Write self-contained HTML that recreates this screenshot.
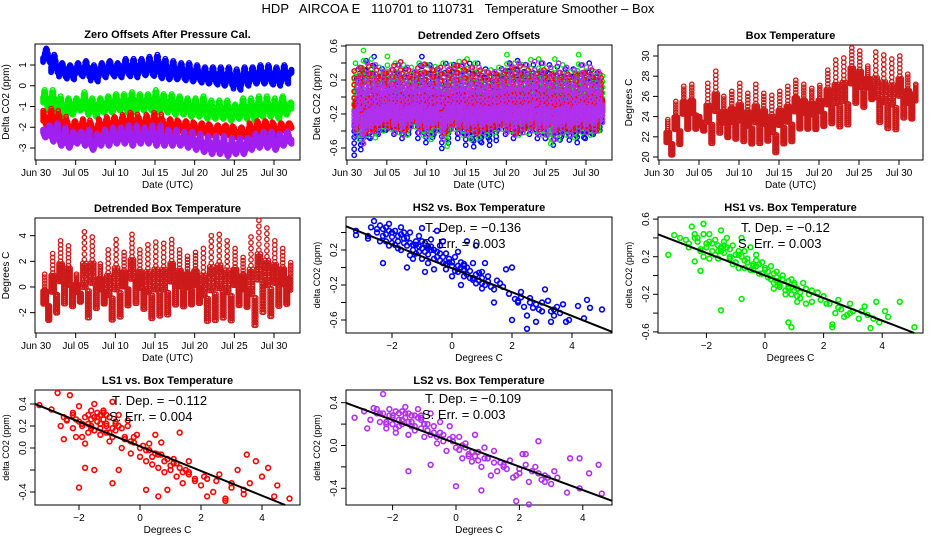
<!DOCTYPE html>
<html><head><meta charset="utf-8">
<style>
html,body{margin:0;padding:0;background:#fff;}
svg{display:block;font-family:"Liberation Sans",sans-serif;}
</style></head>
<body>
<svg id="chart" width="936" height="540" viewBox="0 0 936 540" xmlns="http://www.w3.org/2000/svg">
<text x="458" y="13" font-size="13" text-anchor="middle" xml:space="preserve">HDP   AIRCOA E   110701 to 110731   Temperature Smoother – Box</text>
</svg>
<script>
// ---------- data ----------
const dayLabels = ["Jun 30","Jul 05","Jul 10","Jul 15","Jul 20","Jul 25","Jul 30"];
const dayTicks = [0,5,10,15,20,25,30];
const hs2Lo = [1.1,0.6,0.4,0.3,0.5,0.4,0.2,0.4,0.5,0.4,0.5,0.4,0.5,0.5,0.4,0.3,0.3,0.3,0.2,0.2,0.1,0.1,0.0,0.0,-0.2,0.0,0.1,0.1,0.1,0.0,0.1,0.5];
const hs2Hi = [1.8,1.5,1.1,1.0,1.1,1.2,1.0,1.1,1.2,1.1,1.3,1.3,1.3,1.4,1.5,1.3,1.2,1.1,1.1,1.0,0.9,0.9,0.9,0.9,0.8,0.9,0.9,1.0,1.0,0.9,1.0,0.8];
const hs1Lo = [-1.2,-1.3,-1.6,-1.4,-1.2,-1.4,-1.5,-1.3,-1.3,-1.2,-1.3,-1.3,-1.2,-1.2,-1.3,-1.3,-1.4,-1.4,-1.5,-1.5,-1.6,-1.6,-1.6,-1.7,-1.6,-1.6,-1.7,-1.5,-1.5,-1.6,-1.4,-1.3];
const hs1Hi = [-0.2,-0.2,-0.5,-0.6,-0.6,-0.3,-0.6,-0.6,-0.5,-0.4,-0.4,-0.3,-0.4,-0.4,-0.2,-0.4,-0.4,-0.5,-0.6,-0.6,-0.5,-0.7,-0.7,-0.7,-0.9,-0.6,-0.6,-0.5,-0.5,-0.6,-0.5,-0.8];
const ls1Lo = [-2.0,-2.2,-2.3,-2.3,-2.2,-2.3,-2.4,-2.2,-2.2,-2.1,-2.1,-2.2,-2.1,-2.1,-2.2,-2.2,-2.2,-2.2,-2.3,-2.3,-2.3,-2.4,-2.3,-2.4,-2.5,-2.5,-2.4,-2.3,-2.3,-2.4,-2.2,-2.1];
const ls1Hi = [-1.2,-1.1,-1.4,-1.7,-1.7,-1.6,-1.8,-1.6,-1.5,-1.5,-1.4,-1.3,-1.5,-1.4,-1.3,-1.6,-1.6,-1.7,-1.7,-1.8,-1.8,-1.9,-1.9,-1.9,-2.0,-2.0,-1.8,-1.7,-1.7,-1.8,-1.8,-1.8];
const ls2Lo = [-2.5,-2.7,-2.9,-3.0,-2.8,-2.9,-3.1,-2.9,-2.9,-2.8,-2.8,-2.9,-2.8,-2.8,-2.9,-2.9,-2.9,-2.9,-3.0,-3.1,-3.2,-3.3,-3.3,-3.4,-3.3,-3.3,-3.1,-3.0,-3.0,-3.1,-2.9,-2.8];
const ls2Hi = [-1.9,-1.8,-2.0,-2.2,-2.2,-2.1,-2.3,-2.1,-2.0,-2.0,-1.9,-1.9,-2.0,-1.9,-1.9,-2.1,-2.1,-2.2,-2.2,-2.3,-2.4,-2.4,-2.4,-2.5,-2.5,-2.5,-2.3,-2.2,-2.2,-2.3,-2.2,-2.2];
const dHs2Lo = [-0.7,-0.55,-0.5,-0.45,-0.4,-0.45,-0.5,-0.35,-0.5,-0.55,-0.45,-0.62,-0.4,-0.5,-0.58,-0.6,-0.55,-0.58,-0.4,-0.45,-0.5,-0.4,-0.45,-0.5,-0.5,-0.58,-0.48,-0.52,-0.55,-0.5,-0.45,-0.3];
const dHs2Hi = [0.35,0.45,0.5,0.35,0.3,0.4,0.35,0.3,0.5,0.4,0.35,0.42,0.4,0.38,0.42,0.42,0.35,0.3,0.35,0.42,0.45,0.4,0.4,0.42,0.4,0.38,0.35,0.35,0.4,0.42,0.3,0.25];
const dHs1Lo = [-0.5,-0.45,-0.48,-0.4,-0.38,-0.42,-0.45,-0.35,-0.45,-0.5,-0.4,-0.58,-0.38,-0.45,-0.5,-0.48,-0.45,-0.42,-0.38,-0.4,-0.45,-0.42,-0.4,-0.45,-0.55,-0.5,-0.45,-0.48,-0.42,-0.45,-0.4,-0.3];
const dHs1Hi = [0.4,0.55,0.45,0.35,0.48,0.4,0.38,0.35,0.4,0.38,0.36,0.4,0.38,0.42,0.45,0.4,0.3,0.32,0.35,0.5,0.4,0.38,0.44,0.45,0.35,0.45,0.38,0.3,0.5,0.35,0.3,0.25];
const dLs1Lo = [-0.4,-0.45,-0.42,-0.35,-0.38,-0.4,-0.42,-0.3,-0.4,-0.38,-0.35,-0.45,-0.35,-0.38,-0.42,-0.45,-0.4,-0.38,-0.35,-0.4,-0.45,-0.4,-0.38,-0.4,-0.35,-0.42,-0.4,-0.42,-0.38,-0.4,-0.42,-0.3];
const dLs1Hi = [0.38,0.4,0.35,0.3,0.35,0.45,0.35,0.3,0.42,0.35,0.38,0.35,0.4,0.45,0.38,0.35,0.32,0.3,0.3,0.38,0.4,0.35,0.3,0.35,0.3,0.32,0.3,0.3,0.32,0.35,0.3,0.28];
const dLs2Lo = [-0.45,-0.55,-0.45,-0.4,-0.35,-0.42,-0.45,-0.35,-0.42,-0.45,-0.4,-0.5,-0.38,-0.42,-0.45,-0.42,-0.42,-0.4,-0.38,-0.42,-0.45,-0.42,-0.4,-0.45,-0.45,-0.5,-0.42,-0.45,-0.4,-0.42,-0.4,-0.3];
const dLs2Hi = [0.35,0.4,0.38,0.3,0.32,0.38,0.35,0.3,0.38,0.35,0.32,0.36,0.35,0.38,0.35,0.35,0.3,0.3,0.32,0.38,0.4,0.38,0.42,0.4,0.35,0.4,0.35,0.32,0.38,0.35,0.3,0.28];
const boxLo = [20,21,22.5,22.5,22.5,21,22,21.7,21.5,21.2,21,21,21.3,20.1,21,21.2,22.5,22.5,22.5,22.8,23,22.6,22.8,25,24.6,25.5,23,22.4,22.3,23.5,23.5,24.5];
const boxHi = [23.7,25.5,27,27.2,24,27.3,28.5,26,26.5,27.3,26.3,27.2,26.3,26.1,26.5,27,27.6,27.2,26.8,27.1,28.6,29.6,29.8,30.8,30.5,29,30.4,30.1,29.7,30,28.2,27.2];
const dBoxLo = [-2.8,-2.3,-1.6,-1.8,-1.3,-2.8,-2,-1.5,-2.9,-2.7,-1.7,-1.6,-2,-2.8,-2.6,-2.5,-1.7,-1.8,-1.6,-1.5,-3,-3,-2.8,-3,-1.7,-1.8,-3.4,-2.4,-2.7,-1.8,-1.6,-1.6];
const dBoxHi = [1,2.6,3.6,3.2,1,4.3,3.9,1.8,2.9,3.7,2.7,4.1,2.9,3.3,3.5,3.4,3.7,2.9,2.4,2.7,3,4,4.1,3.6,3,2.3,3.9,5.2,4.6,3.6,3,1.9];
const hs2X = [-3.2,-3.2,-2.8,-2.8,-2.6,-2.7,-2.5,-2.4,-2.3,-2.2,-2.1,-2.0,-2.0,-1.9,-1.8,-1.7,-1.6,-1.5,-1.4,-1.3,-1.2,-1.1,-1.0,-1.0,-0.9,-0.8,-0.7,-0.6,-0.5,-0.4,-0.3,-0.2,-0.1,0,0.1,0.2,0.3,0.4,0.5,0.6,0.7,0.8,0.9,1.0,1.1,1.2,1.4,1.5,1.7,1.9,2.0,2.1,2.2,2.3,2.4,2.5,2.5,2.6,2.8,3.0,3.1,3.2,3.4,3.5,3.7,3.9,4.2,4.4,4.5,4.6,5.0,-2.3,-1.5,-1.0,-0.5,0.5,0.8,1.1,1.8,-0.9,-0.6,0,0.3,1.4,2.0,2.8,3.3,3.8,-1.8,-1.3,-0.8,-0.3,0.2,-2.4,-2.1,-1.7,-1.4,-1.1,-0.7,-0.4,0.4,0.7,1.0,1.3,1.6,2.2,2.6,2.9,3.3,3.6,
  -2.3,-2.2,-2.1,-1.9,-1.8,-1.6,-1.5,-1.3,-1.2,-1.1,-0.9,-0.8,-0.6,-0.5,-0.3,-0.2,0.0,0.1,0.3,0.4,0.6,0.7,0.9,1.0,-2.0,-1.7,-1.4,-1.0,-0.7,-0.4,-0.1,0.2,0.5,0.8,1.2,2.3,2.7,3.0,3.4,-2.5,-2.2,-1.6,-1.2,-0.8,-0.2,0.4,1.0];
const hs2Y = [0.42,0.37,0.36,0.33,0.53,0.46,0.40,0.48,0.44,0.38,0.50,0.35,0.28,0.42,0.30,0.46,0.33,0.25,0.40,0.20,0.30,0.36,0.22,0.10,0.28,0.15,0.32,0.20,0.12,0.25,0.05,0.16,0.10,0.02,0.12,-0.05,0.06,-0.10,0.00,-0.12,0.05,-0.08,-0.15,-0.05,-0.20,-0.10,-0.25,-0.15,-0.22,-0.30,0.00,-0.36,-0.40,-0.28,-0.45,-0.55,-0.70,-0.35,-0.42,-0.50,-0.25,-0.38,-0.55,-0.45,-0.42,-0.60,-0.44,-0.58,-0.37,-0.46,-0.48,0.05,0.00,0.45,0.42,0.30,0.25,0.05,-0.02,-0.05,-0.02,-0.10,-0.20,-0.40,-0.60,-0.62,-0.62,-0.62,0.22,0.10,0.05,0.30,0.18,0.30,0.25,0.38,0.28,0.18,0.20,0.08,0.02,-0.12,-0.18,-0.22,-0.18,-0.38,-0.40,-0.48,-0.50,-0.52,
  0.36,0.30,0.42,0.26,0.36,0.28,0.34,0.26,0.16,0.24,0.18,0.22,0.10,0.18,0.12,0.04,0.06,-0.04,0.00,0.04,-0.04,-0.14,-0.06,-0.12,0.40,0.20,0.14,0.30,0.24,0.16,0.06,0.02,-0.08,-0.18,-0.16,-0.34,-0.46,-0.40,-0.48,0.44,0.46,0.40,0.26,0.24,-0.02,-0.02,-0.24];
const hs1X = [-3.3,-3.1,-2.9,-2.7,-2.6,-2.5,-2.4,-2.4,-2.3,-2.2,-2.1,-2.1,-2.0,-1.9,-1.8,-1.7,-1.6,-1.5,-1.5,-1.4,-1.3,-1.2,-1.1,-1.0,-0.9,-0.8,-0.7,-0.6,-0.5,-0.4,-0.3,-0.2,-0.1,0,0.1,0.2,0.3,0.4,0.5,0.6,0.7,0.8,0.9,1.0,1.1,1.2,1.3,1.5,1.6,1.8,2.0,2.2,2.3,2.4,2.5,2.6,2.7,2.9,3.0,3.2,3.4,3.5,3.6,3.8,3.9,4.1,4.2,4.6,5.1,-1.5,-0.8,0.8,0.9,2.3,-2.2,-1.9,-1.6,-1.2,-1.0,-0.7,-0.4,-0.1,0.2,0.5,0.8,1.1,1.4,1.9,2.8,3.3,-2.0,-1.4,-0.9,-0.2,0.4,1.0,
  -2.6,-2.3,-2.2,-2.0,-1.8,-1.7,-1.5,-1.3,-1.2,-1.0,-0.8,-0.6,-0.5,-0.3,-0.1,0.0,0.2,0.3,0.5,0.6,0.8,1.0,1.2,1.4,-2.4,-1.9,-1.6,-1.1,-0.7,-0.3,0.1,0.4,0.7,1.1,1.6,2.1,2.5,2.9,3.3,3.7,-2.1,-1.4,-0.9,-0.4,0.3,0.9];
const hs1Y = [0.22,0.43,0.40,0.38,0.30,0.52,0.44,0.15,0.36,0.28,0.55,0.20,0.34,0.44,0.26,0.38,0.18,0.48,0.30,0.24,0.40,0.20,0.32,0.14,0.26,0.40,0.08,0.18,0.30,0.12,0.22,0.02,0.14,0.06,-0.02,0.10,-0.08,0.04,-0.12,0.00,-0.16,-0.06,-0.20,-0.10,-0.14,-0.24,-0.08,-0.20,-0.28,-0.18,-0.22,-0.30,-0.55,-0.40,-0.26,-0.36,-0.44,-0.30,-0.38,-0.46,-0.33,-0.42,-0.56,-0.28,-0.50,-0.38,-0.44,-0.28,-0.55,-0.37,-0.25,-0.50,-0.55,-0.52,0.05,0.18,0.26,0.28,0.22,0.16,0.10,0.02,-0.04,-0.10,-0.12,-0.28,-0.30,-0.26,-0.42,-0.38,0.30,0.32,0.22,0.12,-0.02,-0.16,
  0.34,0.40,0.26,0.30,0.34,0.22,0.26,0.30,0.18,0.22,0.20,0.14,0.06,0.10,0.02,0.08,-0.04,0.02,-0.08,-0.04,-0.14,-0.08,-0.18,-0.14,0.40,0.36,0.32,0.12,0.26,0.16,0.04,-0.06,-0.20,-0.22,-0.16,-0.30,-0.34,-0.40,-0.38,-0.46,0.44,0.36,0.08,0.06,-0.14,-0.04];
const ls1X = [-3.3,-2.9,-2.7,-2.6,-2.5,-2.4,-2.3,-2.2,-2.1,-2.0,-1.9,-1.8,-1.7,-1.6,-1.5,-1.4,-1.3,-1.2,-1.1,-1.0,-0.9,-0.8,-0.7,-0.6,-0.5,-0.4,-0.3,-0.2,-0.1,0,0.1,0.2,0.3,0.4,0.5,0.6,0.7,0.8,0.9,1.0,1.1,1.2,1.3,1.4,1.6,1.8,2.0,2.2,2.4,2.6,2.8,3.0,3.2,3.4,3.5,3.6,3.8,4.0,4.2,4.4,4.5,4.9,-1.5,-0.9,-0.7,0.2,0.6,0.9,1.3,2.2,2.8,-2.5,-2.0,-1.6,-1.3,-1.0,-0.6,-0.2,0.3,0.7,1.1,1.6,-1.8,-1.4,-1.1,-0.4,-2.2,-1.9,-1.5,-1.2,
  -2.4,-2.2,-2.1,-1.9,-1.8,-1.7,-1.6,-1.5,-1.4,-1.3,-1.2,-1.1,-1.0,-0.9,-0.8,-0.7,-1.7,-1.5,-1.3,-1.1,-0.9,-0.5,-0.3,0.0,0.2,0.4,0.6,0.8,1.0,1.2,1.4,1.6,1.8,2.1,2.5,3.0,3.4,-2.0,-1.6,-1.2,-0.8,0.5,1.5];
const ls1Y = [0.39,0.35,0.50,0.20,0.08,0.25,0.48,0.30,0.10,0.38,0.22,0.04,0.30,0.18,0.40,0.28,0.12,0.34,0.20,0.06,0.42,0.16,0.30,0.00,0.10,0.20,-0.05,0.05,0.12,-0.08,0.02,-0.12,-0.02,-0.15,-0.05,-0.18,0.05,-0.22,-0.10,-0.20,-0.14,-0.26,-0.18,-0.32,-0.22,-0.30,-0.34,-0.28,-0.40,-0.24,-0.46,-0.36,-0.20,-0.42,-0.06,-0.32,-0.12,-0.26,-0.18,-0.44,-0.34,-0.46,-0.20,-0.32,-0.20,-0.38,-0.44,-0.38,0.14,-0.44,-0.48,0.28,0.24,0.26,0.22,0.14,0.18,0.10,0.04,-0.06,-0.10,-0.12,-0.18,0.32,0.30,0.25,0.18,0.10,0.16,0.32,0.26,
  0.32,0.26,0.20,0.28,0.22,0.34,0.28,0.24,0.30,0.26,0.22,0.28,0.18,0.24,0.20,0.14,0.16,0.18,0.14,0.10,0.08,0.06,0.00,-0.02,-0.08,-0.06,-0.12,-0.16,-0.14,-0.22,-0.24,-0.28,-0.26,-0.30,-0.32,-0.38,-0.36,0.20,0.32,0.22,0.12,-0.20,-0.16];
const ls2X = [-3.2,-2.9,-2.8,-2.7,-2.6,-2.5,-2.4,-2.3,-2.2,-2.1,-2.0,-1.9,-1.8,-1.7,-1.6,-1.5,-1.4,-1.3,-1.2,-1.1,-1.0,-0.9,-0.8,-0.7,-0.6,-0.5,-0.4,-0.3,-0.2,-0.1,0,0.1,0.2,0.3,0.4,0.5,0.6,0.7,0.8,0.9,1.0,1.1,1.2,1.3,1.4,1.6,1.8,2.0,2.2,2.3,2.5,2.6,2.8,3.0,3.2,3.5,3.6,3.9,4.2,4.5,4.6,-1.5,-0.8,0.0,0.8,1.9,2.1,2.3,3.9,-2.4,-2.0,-1.7,-1.4,-1.1,-0.9,-0.5,-0.2,0.2,0.5,1.0,1.5,2.4,2.8,-2.2,-1.8,-1.6,-1.3,-1.0,-0.6,
  -2.5,-2.3,-2.1,-1.9,-1.8,-1.6,-1.5,-1.4,-1.2,-1.1,-1.0,-0.9,-0.7,-2.2,-2.0,-1.7,-1.3,-0.8,-0.4,-0.1,0.1,0.3,0.6,0.9,1.2,1.5,1.7,2.0,2.2,2.6,2.9,3.1,-1.9,-1.5,-1.1,0.4,0.7,1.9,2.7];
const ls2Y = [0.26,0.32,0.16,0.24,0.35,0.30,0.22,0.48,0.16,0.34,0.26,0.12,0.30,0.20,0.36,0.10,0.28,0.18,0.34,0.24,0.08,0.20,0.30,0.12,0.02,0.22,0.10,-0.05,0.18,0.04,-0.02,0.08,-0.12,0.02,-0.08,-0.15,0.10,-0.06,-0.20,-0.02,-0.12,-0.28,-0.05,-0.24,-0.16,-0.22,-0.30,-0.26,-0.08,-0.34,-0.20,0.04,-0.28,-0.36,-0.30,-0.44,-0.12,-0.12,-0.26,-0.18,-0.45,-0.24,-0.18,-0.38,-0.42,-0.52,-0.08,-0.55,-0.40,0.30,0.28,0.24,0.18,0.26,0.14,0.12,0.06,0.00,-0.06,-0.12,-0.18,-0.24,-0.34,0.20,0.18,0.30,0.14,0.20,0.08,
  0.34,0.30,0.28,0.32,0.24,0.26,0.30,0.22,0.26,0.16,0.20,0.14,0.18,0.22,0.20,0.32,0.28,0.10,0.04,0.08,-0.04,-0.02,-0.10,-0.12,-0.16,-0.20,-0.14,-0.22,-0.18,-0.26,-0.30,-0.24,0.16,0.22,0.28,-0.10,-0.14,-0.28,-0.32];
const fits = {hs2:[-0.136,-0.01], hs1:[-0.12,0.0], ls1:[-0.112,0.015], ls2:[-0.109,0.02]};

// ---------- drawing ----------
const svg = document.getElementById('chart');
const NS = 'http://www.w3.org/2000/svg';
function mk(tag, attrs, parent){ const e=document.createElementNS(NS,tag); for(const k in attrs) e.setAttribute(k,attrs[k]); (parent||svg).appendChild(e); return e; }

function axes(p){
  const g = mk('g',{});
  
  
  const b = mk('rect',{x:p.x0,y:p.y0,width:p.x1-p.x0,height:p.y1-p.y0,fill:'none',stroke:'#000','stroke-width':1},g);
  
  
  const t = mk('text',{x:(p.x0+p.x1)/2,y:p.y0-6,'font-size':11,'font-weight':'bold','text-anchor':'middle'},g);
  t.textContent = p.title;
  
  
  const xl = p.xmap(p.xt[0]), xr = p.xmap(p.xt[p.xt.length-1]);
  mk('line',{x1:xl,x2:xr,y1:p.y1,y2:p.y1,stroke:'#000'},g);
  p.xt.forEach((v,i)=>{
    const x = p.xmap(v);
    mk('line',{x1:x,x2:x,y1:p.y1,y2:p.y1+5,stroke:'#000'},g);
    const tl = mk('text',{x:x,y:p.y1+16,'font-size':10,'text-anchor':'middle'},g);
    tl.textContent = p.xlabs[i];
    
    
  });
  const xa = mk('text',{x:(p.x0+p.x1)/2,y:p.y1+28,'font-size':10,'text-anchor':'middle'},g);
  xa.textContent = p.xtitle;
  
  
  const yb = p.ymap(p.yt[0]), yt = p.ymap(p.yt[p.yt.length-1]);
  mk('line',{x1:p.x0,x2:p.x0,y1:yb,y2:yt,stroke:'#000'},g);
  p.yt.forEach((v,i)=>{
    const y = p.ymap(v);
    mk('line',{x1:p.x0-5,x2:p.x0,y1:y,y2:y,stroke:'#000'},g);
    if(p.ylabs[i]!==''){
      const yl = mk('text',{x:p.x0-9,y:y,'font-size':10,'text-anchor':'middle',transform:`rotate(-90 ${p.x0-9} ${y})`},g);
      yl.textContent = p.ylabs[i];
      
      
    }
  });
  const yc = (p.y0+p.y1)/2;
  const ya = mk('text',{x:p.x0-26,y:yc,'font-size':p.ysize||10,'text-anchor':'middle',transform:`rotate(-90 ${p.x0-26} ${yc})`},g);
  ya.textContent = p.ytitle;
  
  
  return g;
}

function timeSeries(g, xmap, ymap, lo, hi, color, name, phase, cols, rows, sw){
  const sg = mk('g',{fill:'none',stroke:color,'stroke-width':sw||1.4},g);
  
  
  for(let i=0;i<lo.length;i++){
    for(let k=0;k<cols;k++){
      const t = k/cols;
      const d = i+0.9+t;
      if(d>32.2) continue;
      const s = 0.5-0.5*Math.cos(2*Math.PI*(t+phase));
      const top = lo[i]+(hi[i]-lo[i])*Math.max(s,0.35);
      const bot = lo[i]+(hi[i]-lo[i])*Math.min(s,0.65)*0.6;
      for(let r=0;r<rows;r++){
        const v = bot+(top-bot)*(rows===1?0.5:r/(rows-1));
        const c = mk('circle',{cx:xmap(d).toFixed(1),cy:ymap(v).toFixed(1),r:2.2},sg);
        
        
      }
    }
  }
}

function scatter(g, xmap, ymap, xs, ys, color, name, fit, p){
  const sg = mk('g',{fill:'none',stroke:color,'stroke-width':1.6},g);
  
  
  for(let i=0;i<xs.length;i++){
    const c = mk('circle',{cx:xmap(xs[i]).toFixed(1),cy:ymap(ys[i]).toFixed(1),r:2.4},sg);
    
    
  }
  const xa = (p.x0-p.xc)/p.xs, xb = (p.x1-p.xc)/p.xs;
  let y1 = ymap(fit[0]*xa+fit[1]), y2 = ymap(fit[0]*xb+fit[1]);
  let x2 = p.x1;
  if(y2>p.y1){ const xe = ((p.yc-p.y1)/p.ys - fit[1])/fit[0]; x2 = xmap(xe); y2 = p.y1; }
  const ln = mk('line',{x1:p.x0,y1:y1,x2:x2,y2:y2,stroke:'#000','stroke-width':2},g);
  
  
  const tx = p.txtX;
  const a = mk('text',{x:tx,y:p.txtY,'font-size':13},g);
  a.textContent = 'T. Dep. =  \u2212' + Math.abs(fit[0]);
  a.setAttribute('xml:space','preserve');
  
  
  const b = mk('text',{x:tx-3,y:p.txtY+16,'font-size':13},g);
  b.textContent = p.serr;
  b.setAttribute('xml:space','preserve');
  
  
}

function lin(v0,p0,k){ return v=>p0+(v-v0)*k; }

(function(){
  const p = {name:'panel-zero-offsets',x0:35,x1:300,y0:44,y1:160,title:'Zero Offsets After Pressure Cal.',xtitle:'Date (UTC)',ytitle:'Delta CO2 (ppm)'};
  p.xmap = lin(0,36,(274-36)/30); p.ymap = lin(0,85.75,-20.75);
  p.xt = dayTicks; p.xlabs = dayLabels; p.yt=[-3,-2,-1,0,1]; p.ylabs=['-3','-2','-1','0','1'];
  const g = axes(p);
  timeSeries(g,p.xmap,p.ymap,hs2Lo,hs2Hi,'#0000ff','series-hs2',0.1,10,5);
  timeSeries(g,p.xmap,p.ymap,hs1Lo,hs1Hi,'#00ee00','series-hs1',0.3,10,5);
  timeSeries(g,p.xmap,p.ymap,ls1Lo,ls1Hi,'#ff0000','series-ls1',0.5,10,5);
  timeSeries(g,p.xmap,p.ymap,ls2Lo,ls2Hi,'#a020f0','series-ls2',0.7,10,5);
})();
(function(){
  const p = {name:'panel-detrended-offsets',x0:346,x1:612,y0:45,y1:160,title:'Detrended Zero Offsets',xtitle:'Date (UTC)',ytitle:'Delta CO2 (ppm)'};
  p.xmap = lin(0,347,(586-347)/30); p.ymap = lin(0,97,-85);
  p.xt = dayTicks; p.xlabs = dayLabels; p.yt=[-0.6,-0.4,-0.2,0,0.2,0.4,0.6]; p.ylabs=['-0.6','','-0.2','','0.2','','0.6'];
  const g = axes(p);
  timeSeries(g,p.xmap,p.ymap,dHs2Lo,dHs2Hi,'#0000ff','series-hs2-detrended',0.05,6,6);
  timeSeries(g,p.xmap,p.ymap,dHs1Lo,dHs1Hi,'#00ee00','series-hs1-detrended',0.35,6,6);
  timeSeries(g,p.xmap,p.ymap,dLs1Lo,dLs1Hi,'#ff0000','series-ls1-detrended',0.6,6,6);
  timeSeries(g,p.xmap,p.ymap,dLs2Lo,dLs2Hi,'#b030f0','series-ls2-detrended',0.85,6,6);
})();
(function(){
  const p = {name:'panel-box-temperature',x0:658,x1:923,y0:45,y1:160,title:'Box Temperature',xtitle:'Date (UTC)',ytitle:'Degrees C'};
  p.xmap = lin(0,659,(899-659)/30); p.ymap = lin(20,157,-10.1);
  p.xt = dayTicks; p.xlabs = dayLabels; p.yt=[20,22,24,26,28,30]; p.ylabs=['20','22','24','26','28','30'];
  const g = axes(p);
  timeSeries(g,p.xmap,p.ymap,boxLo,boxHi,'#cc1a1a','series-box-temp',0.3,5,11,1.3);
})();
(function(){
  const p = {name:'panel-detrended-box-temperature',x0:35,x1:300,y0:218,y1:333,title:'Detrended Box Temperature',xtitle:'Date (UTC)',ytitle:'Degrees C'};
  p.xmap = lin(0,36,(274-36)/30); p.ymap = lin(0,287,-12.83);
  p.xt = dayTicks; p.xlabs = dayLabels; p.yt=[-2,0,2,4]; p.ylabs=['-2','0','2','4'];
  const g = axes(p);
  timeSeries(g,p.xmap,p.ymap,dBoxLo,dBoxHi,'#cc1a1a','series-detrended-box-temp',0.3,5,11,1.3);
})();
function scatterPanel(cfg){
  const p = {name:cfg.name,x0:cfg.x0,x1:cfg.x1,y0:cfg.y0,y1:cfg.y1,title:cfg.title,xtitle:'Degrees C',ytitle:'delta CO2 (ppm)',ysize:9};
  p.xc=cfg.xc; p.xs=cfg.xs; p.yc=cfg.yc; p.ys=cfg.ys;
  p.xmap = lin(0,cfg.xc,cfg.xs); p.ymap = lin(0,cfg.yc,-cfg.ys);
  p.xt=[-2,0,2,4]; p.xlabs=['\u22122','0','2','4'];
  p.yt=cfg.yt; p.ylabs=cfg.ylabs; p.txtX=cfg.txtX; p.txtY=cfg.txtY; p.serr=cfg.serr;
  const g = axes(p);
  scatter(g,p.xmap,p.ymap,cfg.xsD,cfg.ysD,cfg.color,cfg.series,cfg.fit,p);
}
scatterPanel({name:'panel-hs2-vs-temp',x0:346,x1:612,y0:217,y1:333,xc:452,xs:30,yc:267.5,ys:87.5,title:'HS2 vs. Box Temperature',
  yt:[-0.6,-0.4,-0.2,0,0.2,0.4],ylabs:['-0.6','','-0.2','','0.2',''],txtX:425,txtY:232,serr:'S. Err. =  0.003',xsD:hs2X,ysD:hs2Y,color:'#0000ff',series:'series-hs2-scatter',fit:fits.hs2});
scatterPanel({name:'panel-hs1-vs-temp',x0:658,x1:923,y0:217,y1:333,xc:765,xs:29.3,yc:275.5,ys:94,title:'HS1 vs. Box Temperature',
  yt:[-0.6,-0.4,-0.2,0,0.2,0.4,0.6],ylabs:['-0.6','','-0.2','','0.2','','0.6'],txtX:741,txtY:232,serr:'S. Err. =  0.003',xsD:hs1X,ysD:hs1Y,color:'#00ee00',series:'series-hs1-scatter',fit:fits.hs1});
scatterPanel({name:'panel-ls1-vs-temp',x0:35,x1:300,y0:390,y1:505,xc:140,xs:30.5,yc:448,ys:110,title:'LS1 vs. Box Temperature',
  yt:[-0.4,-0.2,0,0.2,0.4],ylabs:['-0.4','','0.0','0.2','0.4'],txtX:112,txtY:405,serr:'S. Err. =  0.004',xsD:ls1X,ysD:ls1Y,color:'#ff0000',series:'series-ls1-scatter',fit:fits.ls1});
scatterPanel({name:'panel-ls2-vs-temp',x0:346,x1:612,y0:390,y1:505,xc:456,xs:31.7,yc:445.5,ys:107,title:'LS2 vs. Box Temperature',
  yt:[-0.4,-0.2,0,0.2,0.4],ylabs:['-0.4','','0.0','','0.4'],txtX:425,txtY:403,serr:'S. Err. =  0.003',xsD:ls2X,ysD:ls2Y,color:'#b030f0',series:'series-ls2-scatter',fit:fits.ls2});
</script>
</body></html>
